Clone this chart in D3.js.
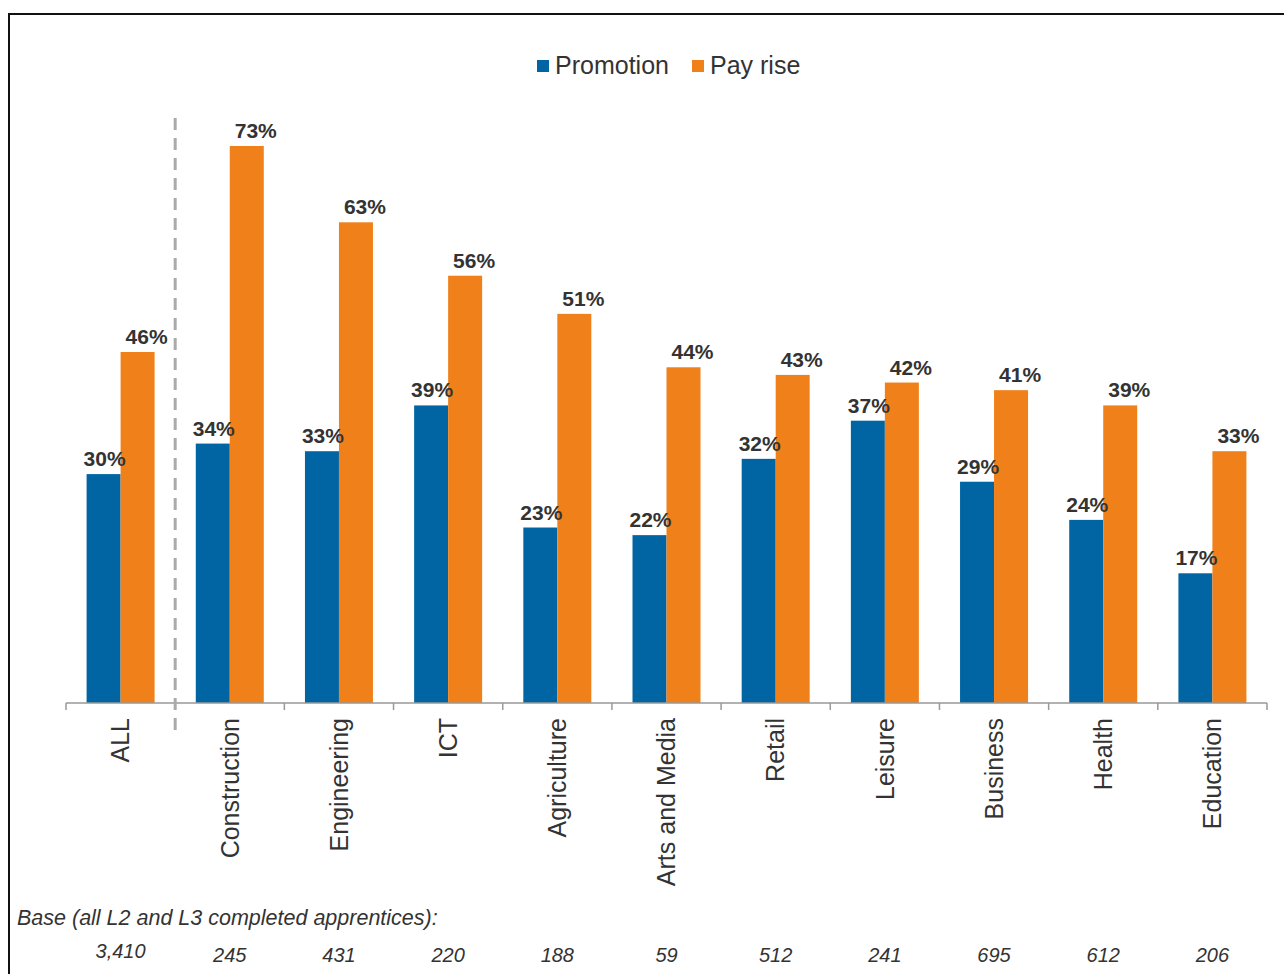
<!DOCTYPE html>
<html>
<head>
<meta charset="utf-8">
<script src="https://cdn.jsdelivr.net/npm/d3@7"></script>
<style>
  body { margin: 0; background: #fff; }
  svg { display: block; font-family: Arial, "Liberation Sans", sans-serif; }
</style>
</head>
<body>
<div id="chart"></div>
<script>
var categories = ["ALL", "Construction", "Engineering", "ICT", "Agriculture", "Arts and Media",
                  "Retail", "Leisure", "Business", "Health", "Education"];
var promotion = [30, 34, 33, 39, 23, 22, 32, 37, 29, 24, 17];
var payRise   = [46, 73, 63, 56, 51, 44, 43, 42, 41, 39, 33];
var bases     = ["3,410", "245", "431", "220", "188", "59", "512", "241", "695", "612", "206"];
var seriesNames = ["Promotion", "Pay rise"];
var colors = ["#0065a2", "#f08019"];

var width = 1284, height = 974;
var textColor = "#333";

var svg = d3.select("#chart")
    .append("svg")
    .attr("width", width)
    .attr("height", height);

// frame (right and bottom edges fall off the picture)
svg.append("rect")
    .attr("x", 9).attr("y", 14)
    .attr("width", 1290).attr("height", 980)
    .attr("fill", "none")
    .attr("stroke", "#111")
    .attr("stroke-width", 2);

var x = d3.scaleBand()
    .domain(categories)
    .range([66, 1267]);

var xSub = d3.scaleBand()
    .domain(seriesNames)
    .range([0, 68]);

var y = d3.scaleLinear()
    .domain([0, 80])
    .range([703, 703 - 80 * 7.63]);

var data = categories.map(function (c, i) {
    return { cat: c, values: [promotion[i], payRise[i]] };
});

var offset = (x.bandwidth() - 68) / 2;
var labelShift = [1, 9]; // labels sit a little right of the bar centre

var groups = svg.append("g")
    .selectAll("g")
    .data(data)
    .enter().append("g")
    .attr("transform", function (d) { return "translate(" + (x(d.cat) + offset) + ",0)"; });

groups.selectAll("rect")
    .data(function (d) { return d.values.map(function (v, j) { return { s: seriesNames[j], v: v, j: j }; }); })
    .enter().append("rect")
    .attr("x", function (d) { return xSub(d.s); })
    .attr("y", function (d) { return y(d.v); })
    .attr("width", xSub.bandwidth())
    .attr("height", function (d) { return y(0) - y(d.v); })
    .attr("fill", function (d) { return colors[d.j]; });

groups.selectAll("text")
    .data(function (d) { return d.values.map(function (v, j) { return { s: seriesNames[j], v: v, j: j }; }); })
    .enter().append("text")
    .attr("x", function (d) { return xSub(d.s) + xSub.bandwidth() / 2 + labelShift[d.j]; })
    .attr("y", function (d) { return y(d.v) - 8; })
    .attr("text-anchor", "middle")
    .style("font-size", "21px")
    .style("font-weight", "bold")
    .style("fill", textColor)
    .text(function (d) { return d.v + "%"; });

// x axis: line with ticks between categories
var axis = svg.append("g").attr("transform", "translate(0,703)");
axis.append("line")
    .attr("x1", 66).attr("x2", 1267)
    .attr("stroke", "#999").attr("stroke-width", 1.5);

var tickPos = categories.map(function (c) { return x(c); }).concat([x.range()[1]]);
axis.selectAll("line.tick")
    .data(tickPos)
    .enter().append("line")
    .attr("class", "tick")
    .attr("x1", function (d) { return d; })
    .attr("x2", function (d) { return d; })
    .attr("y1", 0).attr("y2", 7)
    .attr("stroke", "#999").attr("stroke-width", 1.5);

axis.selectAll("text")
    .data(categories)
    .enter().append("text")
    .attr("transform", function (d) {
        return "translate(" + (x(d) + x.bandwidth() / 2) + ",15) rotate(-90)";
    })
    .attr("dy", "0.35em")
    .attr("text-anchor", "end")
    .style("font-size", "25px")
    .style("fill", textColor)
    .text(function (d) { return d; });

// dashed separator after ALL
svg.append("line")
    .attr("x1", x("Construction")).attr("x2", x("Construction"))
    .attr("y1", 118).attr("y2", 734)
    .attr("stroke", "#aaa")
    .attr("stroke-width", 3)
    .attr("stroke-dasharray", "12,8");

// legend
var legend = svg.append("g");
var legendX = [537, 692];
seriesNames.forEach(function (s, i) {
    legend.append("rect")
        .attr("x", legendX[i]).attr("y", 60)
        .attr("width", 12).attr("height", 12)
        .attr("fill", colors[i]);
    legend.append("text")
        .attr("x", legendX[i] + 18).attr("y", 74)
        .style("font-size", "25px")
        .style("fill", textColor)
        .text(s);
});

// base sizes
svg.append("text")
    .attr("x", 17).attr("y", 925)
    .style("font-size", "21.5px")
    .style("font-style", "italic")
    .style("fill", textColor)
    .text("Base (all L2 and L3 completed apprentices):");

svg.append("g")
    .selectAll("text")
    .data(bases)
    .enter().append("text")
    .attr("x", function (d, i) { return x(categories[i]) + x.bandwidth() / 2; })
    .attr("y", function (d, i) { return i === 0 ? 958 : 962; })
    .attr("text-anchor", "middle")
    .style("font-size", "20px")
    .style("font-style", "italic")
    .style("fill", textColor)
    .text(function (d) { return d; });
</script>
</body>
</html>
